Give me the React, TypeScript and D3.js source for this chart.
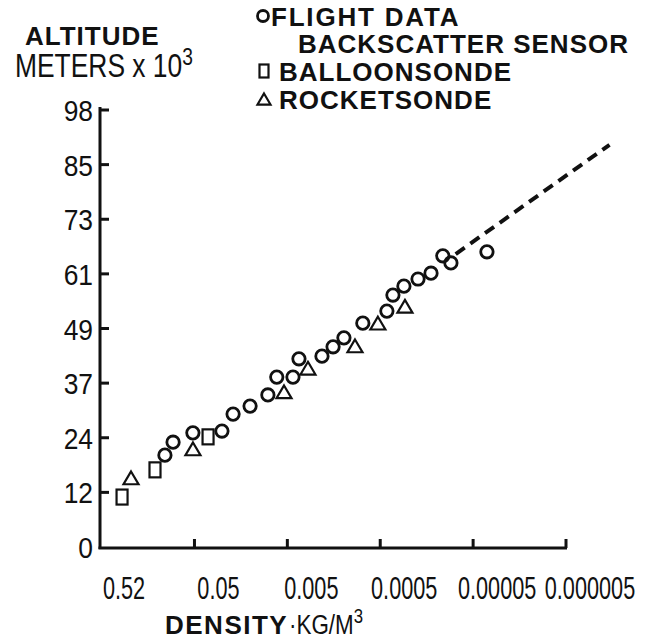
import React from "react";
import * as d3 from "d3";

// ---- data ----
const flightDensity = [0.104, 0.085, 0.052, 0.0253, 0.0192, 0.0126, 0.0081, 0.0065, 0.00435, 0.00375, 0.00212, 0.00161, 0.00123, 0.00077, 0.000424, 0.000365, 0.000278, 0.000196, 0.000142, 0.000106, 0.0000867, 0.0000355];
const flightAltitude = [20.6, 23.5, 25.6, 26.0, 29.8, 31.6, 34.1, 38.1, 38.1, 42.2, 42.8, 44.9, 46.9, 50.2, 52.9, 56.5, 58.5, 60.1, 61.4, 65.3, 63.7, 66.2];
const balloonDensity = [0.301, 0.133, 0.0357];
const balloonAltitude = [11.2, 17.3, 24.7];
const rocketDensity = [0.241, 0.0519, 0.00543, 0.003, 0.000935, 0.00053, 0.000271];
const rocketAltitude = [15.5, 22.0, 34.8, 40.1, 45.1, 50.2, 54.0];
const extrapDensity = [0.000077, 0.0000017];
const extrapAltitude = [65.7, 90.2];

const xTickValues = [0.52, 0.05, 0.005, 0.0005, 0.00005, 0.000005];
const xTickLabels = ["0.52", "0.05", "0.005", "0.0005", "0.00005", "0.000005"];
const yTickLabels = ["0", "12", "24", "37", "49", "61", "73", "85", "98"];
const yMax = 98;

const legendItems = ["FLIGHT DATA", "BACKSCATTER SENSOR", "BALLOONSONDE", "ROCKETSONDE"];

const REG = "'Liberation Sans', 'DejaVu Sans', sans-serif";

const x = d3.scaleLog().domain([0.52, 0.000005]).range([100, 566]);
const y = d3.scaleLinear().domain([0, yMax]).range([547, 110]);

function Circle({ cx, cy, r = 6.2 }: { cx: number; cy: number; r?: number }) {
  return <circle cx={cx} cy={cy} r={r} fill="none" stroke="#111" strokeWidth={2.8} />;
}
function Square({ cx, cy, w = 11, h = 15 }: { cx: number; cy: number; w?: number; h?: number }) {
  return <rect x={cx - w / 2} y={cy - h / 2} width={w} height={h} fill="none" stroke="#111" strokeWidth={2.2} />;
}
function Tri({ cx, cy, s = 15 }: { cx: number; cy: number; s?: number }) {
  const h = s * 0.85;
  const p = `${cx},${cy - h / 2} ${cx + s / 2},${cy + h / 2} ${cx - s / 2},${cy + h / 2}`;
  return <polygon points={p} fill="none" stroke="#111" strokeWidth={2.2} />;
}

function Narrow({ x, y, size, sx = 0.8, anchor = "start", children }: any) {
  return (
    <text transform={`translate(${x},${y}) scale(${sx},1)`} textAnchor={anchor} fontFamily={REG} fontSize={size} fill="#111">
      {children}
    </text>
  );
}
function Bold({ x, y, size = 26, ls = 1, children }: any) {
  return (
    <text x={x} y={y} fontFamily={REG} fontWeight="bold" fontSize={size} letterSpacing={ls} fill="#111">
      {children}
    </text>
  );
}

export default function App() {
  const yTickPos = yTickLabels.map((_, i) => (i * yMax) / (yTickLabels.length - 1));
  const line = d3.line<number>().x((_, i) => x(extrapDensity[i])).y((d) => y(d));
  return (
    <svg width={663} height={644} style={{ position: "absolute", left: 0, top: 0, background: "#fff" }}>
      {/* y axis title */}
      <Bold x={25} y={45}>ALTITUDE</Bold>
      <Narrow x={15} y={77} size={33} sx={0.8}>
        METERS x 10<tspan dy={-12} fontSize={24}>3</tspan>
      </Narrow>

      {/* legend */}
      <Circle cx={263} cy={16} r={5.5} />
      <Bold x={271} y={26} ls={1.8}>{legendItems[0]}</Bold>
      <Bold x={298} y={53}>{legendItems[1]}</Bold>
      <Square cx={264} cy={71} w={9} h={13} />
      <Bold x={279} y={81}>{legendItems[2]}</Bold>
      <Tri cx={264} cy={99} s={13} />
      <Bold x={279} y={109}>{legendItems[3]}</Bold>

      {/* axes */}
      <line x1={100} y1={y(yMax) - 3} x2={100} y2={549} stroke="#111" strokeWidth={3} />
      <line x1={98.5} y1={548} x2={x(0.000005) + 1} y2={548} stroke="#111" strokeWidth={3} />
      {yTickPos.map((v, i) => (
        <g key={"y" + i}>
          {i > 0 && <line x1={100} x2={109} y1={y(v)} y2={y(v)} stroke="#111" strokeWidth={3} />}
          <Narrow x={93} y={y(v) + 11} size={30} sx={0.88} anchor="end">
            {yTickLabels[i]}
          </Narrow>
        </g>
      ))}
      {xTickValues.map((v, i) => (
        <g key={"x" + i}>
          {i > 0 && <line x1={x(v)} x2={x(v)} y1={548} y2={539} stroke="#111" strokeWidth={3} />}
          <Narrow x={x(v) + 24} y={599} size={31} sx={0.7} anchor="middle">
            {xTickLabels[i]}
          </Narrow>
        </g>
      ))}

      {/* x axis title */}
      <Bold x={165} y={634} size={26} ls={1.5}>DENSITY</Bold>
      <Narrow x={289} y={634} size={28} sx={0.8}>
        ·KG/M<tspan dy={-11} fontSize={21}>3</tspan>
      </Narrow>

      {/* extrapolation */}
      <path d={line(extrapAltitude) || ""} fill="none" stroke="#111" strokeWidth={4} strokeDasharray="11 7" />

      {/* data */}
      {balloonDensity.map((d, i) => <Square key={"b" + i} cx={x(d)} cy={y(balloonAltitude[i])} />)}
      {rocketDensity.map((d, i) => <Tri key={"r" + i} cx={x(d)} cy={y(rocketAltitude[i])} />)}
      {flightDensity.map((d, i) => <Circle key={"f" + i} cx={x(d)} cy={y(flightAltitude[i])} />)}
    </svg>
  );
}
